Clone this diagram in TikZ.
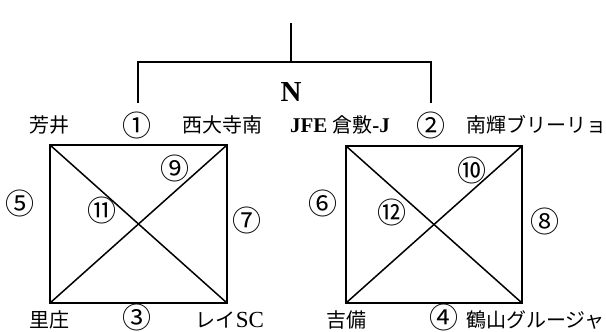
\documentclass[tikz,border=0pt]{standalone}
\usepackage{fontspec}
\setmainfont{Liberation Serif}
\newfontfamily\jp{Noto Sans CJK JP}
\begin{document}
\begin{tikzpicture}[x=1pt,y=-1pt,
  lbl/.style={inner sep=0pt,anchor=center,font=\fontsize{20}{22}\selectfont},
  num/.style={inner sep=0pt,anchor=center,font=\jp\fontsize{29}{30}\selectfont},
  brk/.style={line width=1.8pt},
  sq/.style={line width=2pt},
  dg/.style={line width=1.5pt}]
\useasboundingbox (0,0) rectangle (606,332);
% bracket
\coordinate (top) at (291,23);
\coordinate (mid) at (291,62);
\coordinate (hl) at (138,62);
\coordinate (hr) at (431,62);
\coordinate (dl) at (138,103);
\coordinate (dr) at (431,103);
\draw[brk] (top) -- (mid);
\draw[brk,line join=miter] (dl) -- (hl) -- (hr) -- (dr);
\node[inner sep=0pt,font=\bfseries\fontsize{29}{30}\selectfont] (N) at (291,92) {N};
% left square
\coordinate (A) at (50,145);
\coordinate (B) at (227,145);
\coordinate (C) at (50,303);
\coordinate (D) at (227,303);
\draw[sq,line join=miter] (A) -- (B) -- (D) -- (C) -- cycle;
\draw[dg] (A) -- (D);
\draw[dg] (C) -- (B);
% right square
\coordinate (E) at (346,146);
\coordinate (F) at (522,146);
\coordinate (G) at (346,303);
\coordinate (H) at (522,303);
\draw[sq,line join=miter] (E) -- (F) -- (H) -- (G) -- cycle;
\draw[dg] (E) -- (H);
\draw[dg] (G) -- (F);
% team labels
\node[lbl] (t1) at (50,125) {\jp 芳井};
\node[num] (n1) at (137,125) {①};
\node[lbl] (t2) at (222,125) {\jp 西大寺南};
\node[lbl] (t3) at (340,125) {{\fontsize{21}{22}\selectfont\textbf{JFE}} {\jp 倉敷}{\fontsize{21}{22}\selectfont\textbf{-J}}};
\node[num] (n2) at (431,125) {②};
\node[lbl,anchor=west] (t4) at (466,125) {\jp 南輝ブリーリョ};
\node[lbl] (t5) at (50,320) {\jp 里庄};
\node[num] (n3) at (137,317) {③};
\node[lbl] (t6) at (230,320) {{\jp レイ}{\fontsize{23}{24}\selectfont SC}};
\node[lbl] (t7) at (346,320) {\jp 吉備};
\node[num] (n4) at (444,317) {④};
\node[lbl,anchor=west] (t8) at (466,320) {\jp 鶴山グルージャ};
% match numbers
\node[num] (n5) at (20,203) {⑤};
\node[num] (n7) at (247,220) {⑦};
\node[num] (n9) at (175,168) {⑨};
\node[num] (n11) at (102,210) {⑪};
\node[num] (n6) at (323,203) {⑥};
\node[num] (n8) at (545,221) {⑧};
\node[num] (n10) at (472,170) {⑩};
\node[num] (n12) at (392,212) {⑫};
\end{tikzpicture}
\end{document}
